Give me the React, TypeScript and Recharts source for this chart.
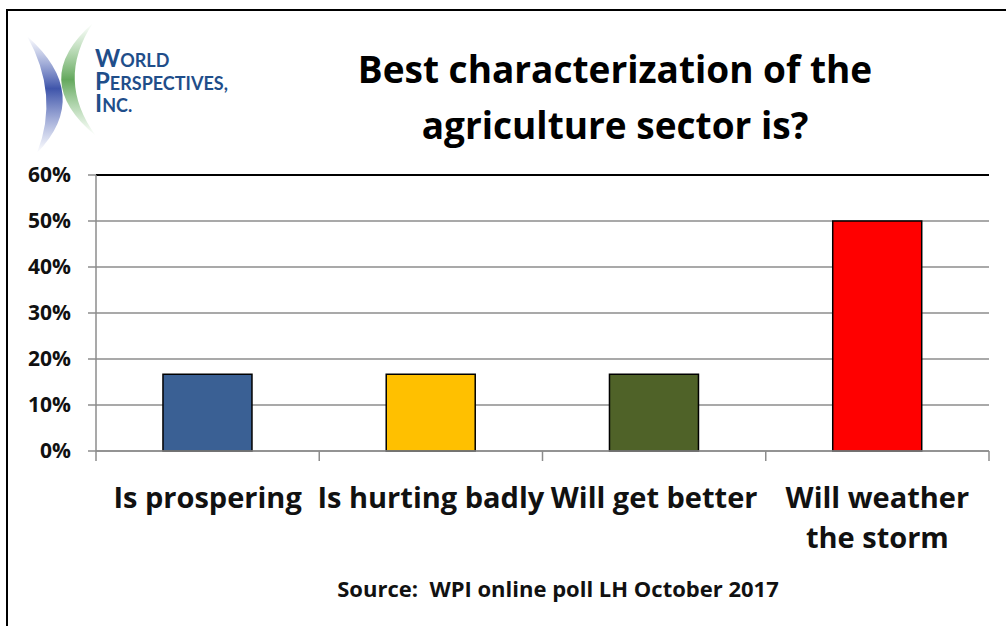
import { BarChart, Bar, Cell, XAxis, YAxis, CartesianGrid, ReferenceLine } from 'recharts'

const categories = ['Is prospering', 'Is hurting badly', 'Will get better', 'Will weather\nthe storm']
const shares = [0.167, 0.167, 0.167, 0.5]
const barColors = ['#3A6094', '#FFC000', '#4F6228', '#FF0000']
const yTicks = [0, 0.1, 0.2, 0.3, 0.4, 0.5, 0.6]
const titleLines = ['Best characterization of the', 'agriculture sector is?']
const sourceText = 'Source:  WPI online poll LH October 2017'
const logoLines = [['W', 'ORLD'], ['P', 'ERSPECTIVES,'], ['I', 'NC.']]

const FONT = '"Open Sans", "DejaVu Sans", sans-serif'
const GRID = '#8c8c8c'
const LOGO_BLUE = '#1F4E8A'

const chartData = categories.map((name, i) => ({ name, value: shares[i] }))

function CategoryTick(props: any) {
  const { x, y, payload, index } = props
  const half = payload?.offset ?? 0
  const lines = String(payload.value).split('\n')
  return (
    <g>
      <line x1={x - half} x2={x - half} y1={y} y2={y + 10} stroke={GRID} strokeWidth={1.5} />
      {index === categories.length - 1 && (
        <line x1={x + half} x2={x + half} y1={y} y2={y + 10} stroke={GRID} strokeWidth={1.5} />
      )}
      <text x={x} y={y + 57} textAnchor="middle" fill="#111" fontSize={29} fontWeight={700} fontFamily={FONT}>
        {lines.map((l, i) => (
          <tspan key={i} x={x} dy={i === 0 ? 0 : 40}>{l}</tspan>
        ))}
      </text>
    </g>
  )
}

function Logo() {
  return (
    <g>
      <defs>
        <linearGradient id="blueArc" x1="0" y1="0" x2="0" y2="1">
          <stop offset="0%" stopColor="#5b6fbf" stopOpacity={0} />
          <stop offset="45%" stopColor="#3f55aa" stopOpacity={1} />
          <stop offset="100%" stopColor="#5b6fbf" stopOpacity={0} />
        </linearGradient>
        <linearGradient id="greenArc" x1="0" y1="0" x2="0" y2="1">
          <stop offset="0%" stopColor="#7fbf7a" stopOpacity={0} />
          <stop offset="50%" stopColor="#64a85d" stopOpacity={1} />
          <stop offset="100%" stopColor="#7fbf7a" stopOpacity={0} />
        </linearGradient>
      </defs>
      <path d="M27,36 Q93,95 37,153 Q60,95 27,36 Z" fill="url(#blueArc)" />
      <path d="M93,23 Q28,80 96,136 Q55,80 93,23 Z" fill="url(#greenArc)" />
      {logoLines.map(([big, small], i) => (
        <text key={big} x={95} y={67 + i * 22.5} fill={LOGO_BLUE} fontFamily='Lato, "Liberation Sans", sans-serif' fontWeight={700}>
          <tspan fontSize={24}>{big}</tspan>
          <tspan fontSize={18}>{small}</tspan>
        </text>
      ))}
    </g>
  )
}

export default function App() {
  return (
    <div style={{ position: 'absolute', left: 0, top: 0, width: 1006, height: 626, background: '#fff', overflow: 'hidden' }}>
      <div style={{ position: 'absolute', left: 6, top: 9, width: 1000, height: 617, borderTop: '2px solid #000', borderLeft: '2px solid #000', boxSizing: 'border-box' }} />
      <div style={{ position: 'absolute', left: 0, top: 0 }}>
        <BarChart width={1006} height={626} data={chartData} margin={{ top: 175, right: 17, bottom: 55, left: 0 }} barCategoryGap="30%">
          <CartesianGrid vertical={false} stroke={GRID} strokeWidth={1.5} yAxisId="left" />
          <XAxis
            dataKey="name"
            axisLine={{ stroke: GRID, strokeWidth: 1.5 }}
            tickLine={false}
            tickSize={0}
            tickMargin={0}
            height={120}
            interval={0}
            tick={<CategoryTick />}
          />
          <YAxis
            yAxisId="left"
            width={96}
            domain={[0, 0.6]}
            ticks={yTicks}
            tickFormatter={(v: number) => `${Math.round(v * 100)}%`}
            axisLine={{ stroke: GRID, strokeWidth: 1.5 }}
            tickLine={{ stroke: GRID, strokeWidth: 1.5 }}
            tickSize={8}
            tickMargin={17}
            tick={{ fill: '#111', fontSize: 21, fontWeight: 700, fontFamily: FONT }}
          />
          <YAxis yAxisId="right" orientation="right" width={0} domain={[0, 0.6]} tick={false} tickLine={false} axisLine={{ stroke: '#000', strokeWidth: 2 }} />
          <ReferenceLine yAxisId="left" y={0.6} stroke="#000" strokeWidth={2} />
          <Bar yAxisId="left" dataKey="value" stroke="#000" strokeWidth={1.5} isAnimationActive={false}>
            {chartData.map((d, i) => (
              <Cell key={d.name} fill={barColors[i]} />
            ))}
          </Bar>
        </BarChart>
      </div>
      <svg width={1006} height={626} style={{ position: 'absolute', left: 0, top: 0, pointerEvents: 'none' }}>
        <Logo />
        {titleLines.map((t, i) => (
          <text key={t} x={615} y={83 + i * 56} textAnchor="middle" fill="#000" fontSize={37} fontWeight={700} fontFamily={FONT}>
            {t}
          </text>
        ))}
        <text x={558} y={597} textAnchor="middle" fill="#111" fontSize={22} fontWeight={700} fontFamily={FONT} style={{ whiteSpace: 'pre' }}>
          {sourceText}
        </text>
      </svg>
    </div>
  )
}
